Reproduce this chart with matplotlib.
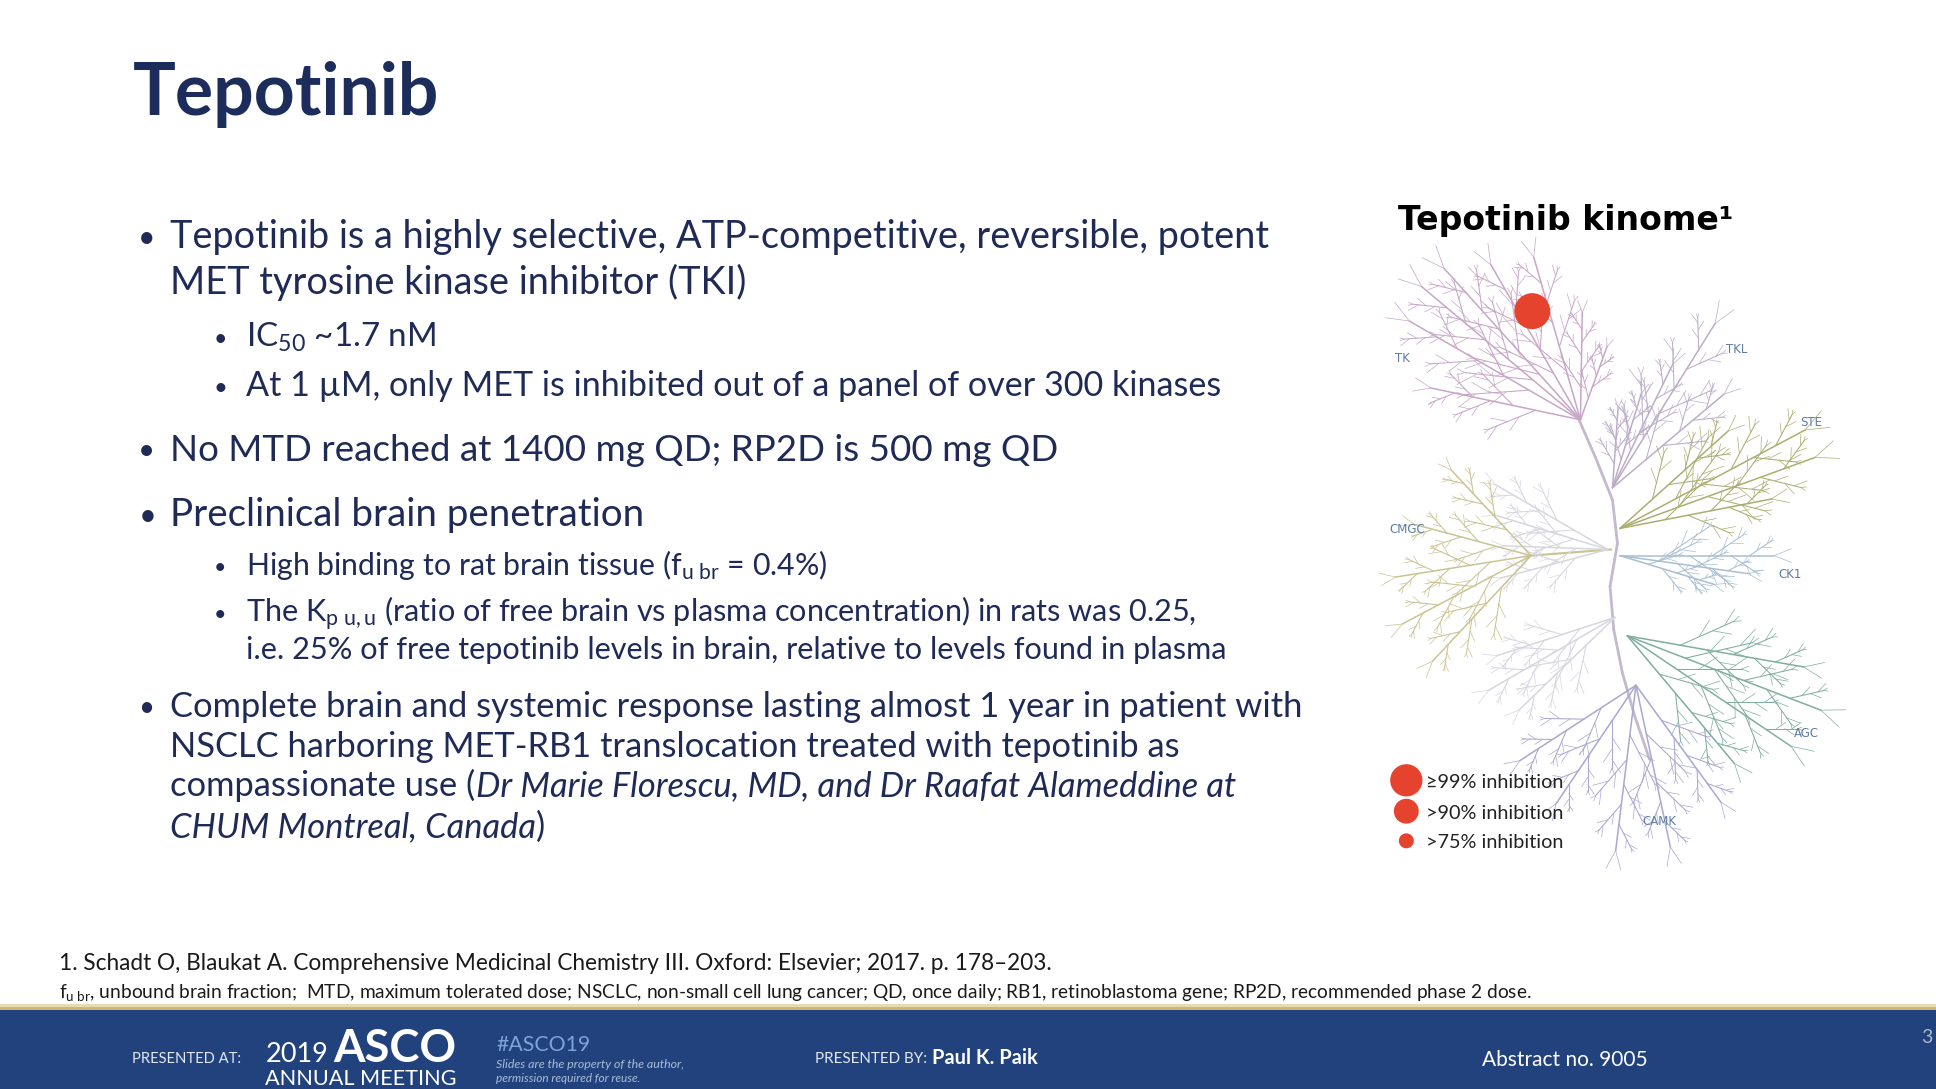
import numpy as np
import matplotlib
matplotlib.use("Agg")
import matplotlib.pyplot as plt
from matplotlib.collections import LineCollection
from matplotlib.patches import Circle, Rectangle

plt.rcParams['font.family'] = ['Lato', 'DejaVu Sans']
plt.rcParams['mathtext.fontset'] = 'custom'
plt.rcParams['mathtext.rm'] = 'Lato'
plt.rcParams['mathtext.it'] = 'Lato:italic'
plt.rcParams['mathtext.bf'] = 'Lato:bold'

# ---------------- data ----------------
title = "Tepotinib"
kinome_title = "Tepotinib kinome\u00b9"
bullet_runs = [
    [("Tepotinib is a highly selective, ATP-competitive, reversible, potent", "normal")],
    [("MET tyrosine kinase inhibitor (TKI)", "normal")],
    [("IC$_{50}$ ~1.7 nM", "normal")],
    [("At 1 \u00b5M, only MET is inhibited out of a panel of over 300 kinases", "normal")],
    [("No MTD reached at 1400 mg QD; RP2D is 500 mg QD", "normal")],
    [("Preclinical brain penetration", "normal")],
    [(r"High binding to rat brain tissue (f$_{\mathrm{u\ br}}$ = 0.4%)", "normal")],
    [(r"The K$_{\mathrm{p\ u,u}}$ (ratio of free brain vs plasma concentration) in rats was 0.25,", "normal")],
    [("i.e. 25% of free tepotinib levels in brain, relative to levels found in plasma", "normal")],
    [("Complete brain and systemic response lasting almost 1 year in patient with", "normal")],
    [("NSCLC harboring MET-RB1 translocation treated with tepotinib as", "normal")],
    [("compassionate use (", "normal"), ("Dr Marie Florescu, MD, and Dr Raafat Alameddine at", "italic")],
    [("CHUM Montreal, Canada", "italic"), (")", "normal")],
]
bullet_level = [1, 1, 2, 2, 1, 1, 2, 2, 2, 1, 1, 1, 1]
bullet_mark = [True, False, True, True, True, True, True, True, False, True, False, False, False]
paragraph = [0, 0, 1, 2, 3, 4, 5, 6, 6, 7, 7, 7, 7]

kinase_groups = ["TK", "TKL", "STE", "CK1", "AGC", "CAMK", "CMGC"]
inhibited_kinases = ["MET"]
inhibited_level = [0]           # index into inhibition_labels
inhibition_labels = ["\u226599% inhibition", ">90% inhibition", ">75% inhibition"]

footnote1 = "1. Schadt O, Blaukat A. Comprehensive Medicinal Chemistry III. Oxford: Elsevier; 2017. p. 178\u2013203."
footnote2 = (r"f$_{\mathrm{u\ br}}$, unbound brain fraction;  MTD, maximum tolerated dose; NSCLC, non-small cell lung cancer; "
             "QD, once daily; RB1, retinoblastoma gene; RP2D, recommended phase 2 dose.")
presenter = "Paul K. Paik"
abstract = "Abstract no. 9005"
slide_no = "3"

# ---------------- layout (reference-pixel space 1568 x 882) ----------------
W, H = 1568, 882
S = 1936 / W
fig = plt.figure(figsize=(19.36, 10.89), dpi=100)
ax = fig.add_axes([0, 0, 1, 1])
ax.set_xlim(0, W)
ax.set_ylim(H, 0)
ax.axis('off')
fig.canvas.draw()
R = fig.canvas.get_renderer()

NAVY = '#1c2d5c'
BODY = '#1f2b56'


def width_of(t):
    return t.get_window_extent(R).width / S


def put(x, y, s, size, target=None, **kw):
    kw.setdefault('va', 'baseline')
    kw.setdefault('ha', 'left')
    t = ax.text(x, y, s, fontsize=size, **kw)
    if target is not None:
        t.set_fontsize(size * target / width_of(t))
    return t


def runs_width(runs, size):
    w = 0
    for txt, st in runs:
        t = ax.text(0, 0, txt, fontsize=size, style=st)
        w += width_of(t)
        t.remove()
    return w


# Title
put(108, 93, title, 40, target=248, color=NAVY, fontweight='bold')

# Bullets: each paragraph is sized so its reference line width is matched
para_fit_line = [0, 2, 3, 4, 5, 6, 8, 9]
para_fit_width = [892, 154, 791, 720, 385, 471, 797, 919]
para_size = [20 * w / runs_width(bullet_runs[i], 20) for i, w in zip(para_fit_line, para_fit_width)]

baselines = [201, 238, 281, 321, 373, 426, 466, 504, 534, 581, 613, 645, 678]
text_x = {1: 138, 2: 199}
mark_x = {1: 112, 2: 173}
for runs, lvl, mk, yb, p in zip(bullet_runs, bullet_level, bullet_mark, baselines, paragraph):
    sz = para_size[p]
    if mk:
        ax.text(mark_x[lvl], yb - 1, "\u2022", fontsize=sz * (0.8 if lvl == 1 else 0.7),
                color=BODY, va='baseline', ha='left')
    x = text_x[lvl]
    for txt, st in runs:
        t = ax.text(x, yb, txt, fontsize=sz, style=st, color=BODY, va='baseline', ha='left')
        x += width_of(t)

# Kinome title
put(1132, 186, kinome_title, 18, target=273, color='black', fontweight='bold',
    family=['DejaVu Sans'])

# ---------------- kinome tree ----------------
segs, lws, cols = [], [], []


def add(p0, p1, lw, c):
    segs.append([p0, p1]); lws.append(lw); cols.append(c)


def pt(x, y, a, L):
    r = np.deg2rad(a)
    return x + L * np.cos(r), y - L * np.sin(r)


def feather(x, y, a, L, depth, c):
    ex, ey = pt(x, y, a, L)
    add((x, y), (ex, ey), [0.5, 0.75, 1.1][depth], c)
    if depth == 0:
        return
    fracs = [0.3, 0.45, 0.6, 0.72, 0.84] if depth == 2 else [0.35, 0.6, 0.82]
    for i, f in enumerate(fracs):
        side = 1 if i % 2 == 0 else -1
        px, py = x + f * (ex - x), y + f * (ey - y)
        sl = L * (0.42 - 0.3 * f) if depth == 2 else L * 0.33
        feather(px, py, a + side * 34, sl, depth - 1, c)
    for side in (-1, 1):
        fx, fy = pt(ex, ey, a + side * 22, L * 0.12)
        add((ex, ey), (fx, fy), 0.5, c)


# trunk
trunk_x = [1278, 1292, 1306, 1310, 1304, 1307, 1314, 1324, 1336]
trunk_y = [338, 370, 405, 440, 475, 510, 545, 580, 615]
for i in range(len(trunk_x) - 1):
    add((trunk_x[i], trunk_y[i]), (trunk_x[i + 1], trunk_y[i + 1]), 2.0, '#c3bacd')

group_style = {
    "OTHER1": dict(hub=(1302, 445), c='#d6d6df',
                   br=[(150, 105), (163, 95), (178, 85), (195, 90)]),
    "OTHER2": dict(hub=(1308, 500), c='#d6d6df',
                   br=[(198, 100), (210, 118), (224, 108)]),
    "TK": dict(hub=(1280, 340), c='#c7a6c7',
               br=[(150, 160), (140, 168), (132, 165), (120, 145), (106, 137), (89, 87), (70, 63), (168, 124)]),
    "TKL": dict(hub=(1306, 395), c='#bcadc8',
                br=[(58, 157), (64, 111), (73, 80), (86, 65), (40, 118)]),
    "STE": dict(hub=(1312, 428), c='#abae70',
                br=[(42, 118), (28, 170), (20, 168), (11, 125)]),
    "CK1": dict(hub=(1312, 450), c='#a8bfd1',
                br=[(0, 125), (-8, 105), (-17, 80)]),
    "AGC": dict(hub=(1318, 515), c='#80af9d',
                br=[(-10, 145), (-21, 168), (-34, 160), (-50, 135)]),
    "CAMK": dict(hub=(1325, 555), c='#aaa7d0',
                 br=[(-54, 117), (-78, 134), (-97, 135), (-124, 116), (-147, 112)]),
    "CMGC": dict(hub=(1240, 450), c='#cac392',
                 br=[(133, 95), (165, 98), (189, 111), (208, 118), (227, 117)]),
}
add((1305, 445), (1240, 450), 1.5, '#cac392')
for name in ["OTHER1", "OTHER2"] + kinase_groups:
    g = group_style[name]
    hx, hy = g['hub']
    for a, L in g['br']:
        feather(hx, hy, a, L, 2, g['c'])

ax.add_collection(LineCollection(segs, linewidths=lws, colors=cols, capstyle='round', zorder=2))

label_pos = {"TK": (1130, 290), "TKL": (1398, 283), "STE": (1458, 342), "CK1": (1440, 465),
             "AGC": (1453, 594), "CAMK": (1330, 665), "CMGC": (1125, 429)}
for name in kinase_groups:
    x, y = label_pos[name]
    ax.text(x, y, name, fontsize=8.5, color='#5b7ca4', va='center', ha='left',
            family=['DejaVu Sans'], zorder=3)

# inhibition markers
RED = '#e5432d'
dot_r = [12.5, 9.5, 5.5]
kin_pos = {"MET": (1241, 252)}
for k, lv in zip(inhibited_kinases, inhibited_level):
    ax.add_patch(Circle(kin_pos[k], 14, color=RED, zorder=4))

leg_y = [632, 657, 681]
for lab, r, y in zip(inhibition_labels, dot_r, leg_y):
    ax.add_patch(Circle((1139, y), r, color=RED, zorder=4))
    put(1155, y + 6, lab, 14, target=112, color='#222222')

# ---------------- footnotes ----------------
put(48, 786, footnote1, 14, target=804, color='#1a1a1a')
put(48, 808, footnote2, 11, target=1189, color='#1a1a1a')

# ---------------- footer band ----------------
ax.add_patch(Rectangle((0, 813), W, 3, color='#e7dcb0', zorder=1, lw=0))
ax.add_patch(Rectangle((0, 815.5), W, 3, color='#cdb877', zorder=1, lw=0))
ax.add_patch(Rectangle((0, 818), W, H - 818, color='#21427c', zorder=1, lw=0))

WHITE = '#ffffff'
put(107, 861, "PRESENTED AT:", 9, target=88, color='#e4e9f2', zorder=3)
put(215, 860, "2019", 24, target=51, color=WHITE, zorder=3)
put(270, 860, "ASCO", 24, target=100, color=WHITE, fontweight='bold', zorder=3)
put(215, 879, "ANNUAL MEETING", 14, target=155, color=WHITE, zorder=3)
put(402, 851, "#ASCO19", 13, target=76, color='#7ea3d6', zorder=3)
put(402, 865, "Slides are the property of the author,", 6, target=153, color='#a9bddb',
    style='italic', zorder=3)
put(402, 876, "permission required for reuse.", 6, target=118, color='#a9bddb',
    style='italic', zorder=3)
put(660, 861, "PRESENTED BY:", 9, target=90, color='#e4e9f2', zorder=3)
put(755, 862, presenter, 12, target=85, color=WHITE, fontweight='bold', zorder=3)
put(1200, 863, abstract, 12, target=133, color=WHITE, zorder=3)
put(1556, 845, slide_no, 14, color='#aeb7c7', zorder=3)

fig.savefig("out.png", dpi=100)
